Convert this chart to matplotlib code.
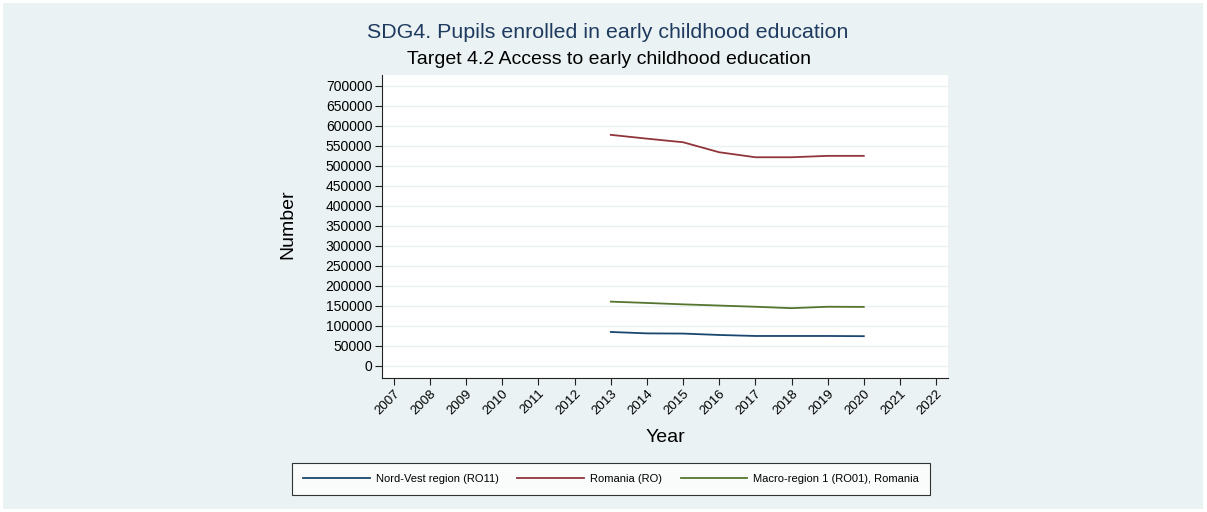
import numpy as np
import matplotlib
matplotlib.use('Agg')
import matplotlib.pyplot as plt
from matplotlib.patches import Rectangle

plt.rcParams['font.family'] = ['Liberation Sans', 'DejaVu Sans']

years = [2013, 2014, 2015, 2016, 2017, 2018, 2019, 2020]
nord_vest = [85000, 81500, 81000, 77500, 75000, 75000, 75000, 74500]
romania = [577500, 568000, 559000, 534000, 521500, 521500, 525000, 525000]
macro1 = [160800, 157500, 154000, 151000, 148000, 144500, 148000, 147600]

labels = ['Nord-Vest region (RO11)', 'Romania (RO)', 'Macro-region 1 (RO01), Romania']
colors = ['#1a476f', '#90353b', '#55752f']
xticks = list(range(2007, 2023))
yticks = list(range(0, 700001, 50000))

bg = '#eaf2f3'
W, H = 1207, 512
fig = plt.figure(figsize=(W / 100, H / 100), dpi=100, facecolor='white')
fig.patches.append(Rectangle((3 / W, 3 / H), 1 - 7 / W, 1 - 6 / H, transform=fig.transFigure,
                             facecolor=bg, edgecolor='none', zorder=-10))

ax = fig.add_axes([382 / W, 1 - 378 / H, (948 - 382) / W, (378 - 75) / H])
ax.set_facecolor('white')

for series, lab, c in zip([nord_vest, romania, macro1], labels, colors):
    ax.plot(years, series, color=c, lw=1.3, label=lab)

ax.set_xlim(2006.67, 2022.33)
ax.set_ylim(-30000, 727000)
ax.set_xticks(xticks)
ax.set_xticklabels([str(y) for y in xticks], rotation=45, ha='right', rotation_mode='anchor', fontsize=9.5)
ax.set_yticks(yticks)
ax.set_yticklabels([str(v) for v in yticks], fontsize=10)
ax.tick_params(axis='both', direction='out', length=5, width=0.8, color='#222222', pad=2)
ax.grid(axis='y', color=bg, lw=1)
ax.set_axisbelow(True)
for s in ['top', 'right']:
    ax.spines[s].set_visible(False)
for s in ['left', 'bottom']:
    ax.spines[s].set_color('#222222')
    ax.spines[s].set_linewidth(0.8)

fig.text(608 / W, 1 - 33 / H, 'SDG4. Pupils enrolled in early childhood education',
         ha='center', va='center', fontsize=15.4, color='#1e3a5f')
fig.text(609 / W, 1 - 60 / H, 'Target 4.2 Access to early childhood education',
         ha='center', va='center', fontsize=14, color='black')
fig.text(288 / W, 1 - 224 / H, 'Number', rotation=90, ha='center', va='center', fontsize=14)
fig.text(665 / W, 1 - 438 / H, 'Year', ha='center', va='center', fontsize=14)

leg = fig.legend(loc='center', bbox_to_anchor=(611 / W, 1 - 479 / H), ncol=3, fontsize=8,
                 frameon=True, fancybox=False, handlelength=6, columnspacing=1.7,
                 handletextpad=0.5, borderpad=1.0, borderaxespad=0)
leg.get_frame().set_edgecolor('black')
leg.get_frame().set_linewidth(0.8)
leg.get_frame().set_facecolor('white')

fig.savefig('out.png', dpi=100, facecolor=fig.get_facecolor())
